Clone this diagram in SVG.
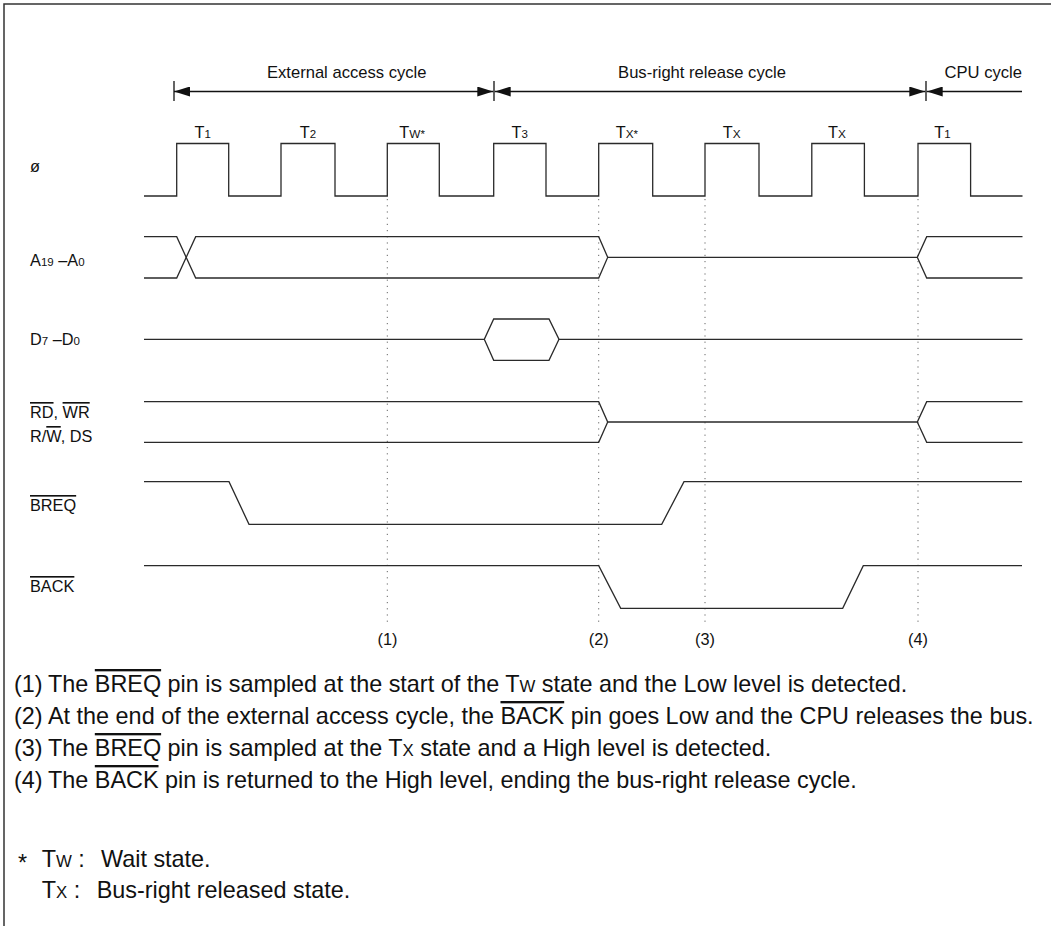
<svg xmlns="http://www.w3.org/2000/svg" width="1051" height="926" viewBox="0 0 1051 926">
<style>
text { font-family: "Liberation Sans", Arial, sans-serif; fill: #111; }
.lbl { font-size: 16.3px; }
.hd { font-size: 16.6px; }
.sm { font-size: 11.5px; }
.sc { font-size: 11.8px; }
.note { font-size: 23.4px; }
.nsc { font-size: 16.8px; }
.ol { text-decoration: overline; }
.wave { fill: none; stroke: #2a2a2a; stroke-width: 1.3; stroke-linejoin: miter; }
.dot { stroke: #666; stroke-width: 1; stroke-dasharray: 1.2 5; fill: none; }
.frame { stroke: #333; stroke-width: 1.5; fill: none; }
.arr { stroke: #111; stroke-width: 1.3; fill: none; }
</style>
<defs>
<marker id="ah" viewBox="0 0 16 10" markerWidth="16" markerHeight="10" markerUnits="userSpaceOnUse" refX="16" refY="5" orient="auto-start-reverse">
<path d="M0,0 L16,5 L0,10 z" fill="#111"/>
</marker>
</defs>

<path class="frame" d="M4,926 V4 H1051"/>

<g id="connectors">
<g id="cycle-arrows">
<line class="arr" x1="174" y1="91.5" x2="493.3" y2="91.5" marker-start="url(#ah)" marker-end="url(#ah)"/>
<line class="arr" x1="494.7" y1="91.5" x2="925.3" y2="91.5" marker-start="url(#ah)" marker-end="url(#ah)"/>
<line class="arr" x1="926.7" y1="91.5" x2="1022" y2="91.5" marker-start="url(#ah)"/>
<line class="arr" x1="174" y1="81" x2="174" y2="101"/>
<line class="arr" x1="494" y1="81" x2="494" y2="101"/>
<line class="arr" x1="926" y1="81" x2="926" y2="101"/>
</g>
<g id="markers">
<line class="dot" x1="387.3" y1="199" x2="387.3" y2="623"/>
<line class="dot" x1="598.7" y1="199" x2="598.7" y2="623"/>
<line class="dot" x1="705" y1="199" x2="705" y2="623"/>
<line class="dot" x1="918" y1="199" x2="918" y2="623"/>
</g>
</g>

<g id="cycle-labels">
<text class="hd" x="346.7" y="78" text-anchor="middle">External access cycle</text>
<text class="hd" x="702" y="78" text-anchor="middle">Bus-right release cycle</text>
<text class="hd" x="1022" y="78" text-anchor="end">CPU cycle</text>
</g>

<g id="state-labels">
<text class="lbl" x="202.7" y="137.5" text-anchor="middle">T<tspan class="sm">1</tspan></text>
<text class="lbl" x="308" y="137.5" text-anchor="middle">T<tspan class="sm">2</tspan></text>
<text class="lbl" x="399.3" y="137.5">T<tspan class="sc">W</tspan><tspan class="sm">*</tspan></text>
<text class="lbl" x="519.8" y="137.5" text-anchor="middle">T<tspan class="sm">3</tspan></text>
<text class="lbl" x="615.7" y="137.5">T<tspan class="sc">X</tspan><tspan class="sm">*</tspan></text>
<text class="lbl" x="731.6" y="137.5" text-anchor="middle">T<tspan class="sc">X</tspan></text>
<text class="lbl" x="837" y="137.5" text-anchor="middle">T<tspan class="sc">X</tspan></text>
<text class="lbl" x="942.5" y="137.5" text-anchor="middle">T<tspan class="sm">1</tspan></text>
</g>

<g id="sig-clock">
<text class="lbl" x="30" y="172">ø</text>
<path class="wave" d="M144,196 H176.7 V143.5 H228.7 V196 H281 V143.5 H335 V196 H387.3 V143.5 H439.3 V196 H493.7 V143.5 H546 V196 H598.7 V143.5 H652.7 V196 H705 V143.5 H759 V196 H811.8 V143.5 H864.4 V196 H918 V143.5 H970.6 V196 H1022.5"/>
</g>

<g id="sig-address">
<text class="lbl" x="30" y="266">A<tspan class="sm">19</tspan> –A<tspan class="sm">0</tspan></text>
<path class="wave" d="M144,236.7 H176.7 L195.7,278 H598.7 L607.7,257.3 H917.3 L926.7,236.7 H1022.5"/>
<path class="wave" d="M144,278 H176.7 L195.7,236.7 H598.7 L607.7,257.3"/>
<path class="wave" d="M917.3,257.3 L926.7,278 H1022.5"/>
</g>

<g id="sig-data">
<text class="lbl" x="30" y="345">D<tspan class="sm">7</tspan> –D<tspan class="sm">0</tspan></text>
<path class="wave" d="M144,339.3 H484.3 L493.7,319 H549 L559,339.3 H1022.5"/>
<path class="wave" d="M484.3,339.3 L493.7,360.3 H549 L559,339.3"/>
</g>

<g id="sig-strobes">
<text class="lbl" x="30" y="418"><tspan class="ol">RD</tspan>, <tspan class="ol">WR</tspan></text>
<text class="lbl" x="30" y="442">R/<tspan class="ol">W</tspan>, DS</text>
<path class="wave" d="M144,401.7 H598.7 L607.7,422 H917.3 L926.7,401.7 H1022.5"/>
<path class="wave" d="M144,442.3 H598.7 L607.7,422"/>
<path class="wave" d="M917.3,422 L926.7,442.3 H1022.5"/>
</g>

<g id="sig-breq">
<text class="lbl" x="30" y="511"><tspan class="ol">BREQ</tspan></text>
<path class="wave" d="M144,481.7 H229 L249,524.3 H661.7 L684,481.7 H1022"/>
</g>

<g id="sig-back">
<text class="lbl" x="30" y="592"><tspan class="ol">BACK</tspan></text>
<path class="wave" d="M144,565.7 H598.7 L620.7,608.3 H842.7 L863.3,565.7 H1022"/>
</g>

<g id="marker-labels">
<text class="lbl" x="387.5" y="645" text-anchor="middle">(1)</text>
<text class="lbl" x="598.7" y="645" text-anchor="middle">(2)</text>
<text class="lbl" x="705" y="645" text-anchor="middle">(3)</text>
<text class="lbl" x="918" y="645" text-anchor="middle">(4)</text>
</g>

<g id="notes">
<text class="note" x="14" y="692">(1)</text>
<text class="note" x="48" y="692">The <tspan class="ol">BREQ</tspan> pin is sampled at the start of the T<tspan class="nsc">W</tspan> state and the Low level is detected.</text>
<text class="note" x="14" y="724">(2)</text>
<text class="note" x="48" y="724">At the end of the external access cycle, the <tspan class="ol">BACK</tspan> pin goes Low and the CPU releases the bus.</text>
<text class="note" x="14" y="756">(3)</text>
<text class="note" x="48" y="756">The <tspan class="ol">BREQ</tspan> pin is sampled at the T<tspan class="nsc">X</tspan> state and a High level is detected.</text>
<text class="note" x="14" y="788">(4)</text>
<text class="note" x="48" y="788">The <tspan class="ol">BACK</tspan> pin is returned to the High level, ending the bus-right release cycle.</text>
</g>

<g id="footnote">
<text class="note" x="18" y="871">*</text>
<text class="note" x="41.7" y="867">T<tspan class="nsc">W</tspan> :</text>
<text class="note" x="101" y="867">Wait state.</text>
<text class="note" x="41.7" y="898">T<tspan class="nsc">X</tspan> :</text>
<text class="note" x="96.7" y="898">Bus-right released state.</text>
</g>
</svg>
